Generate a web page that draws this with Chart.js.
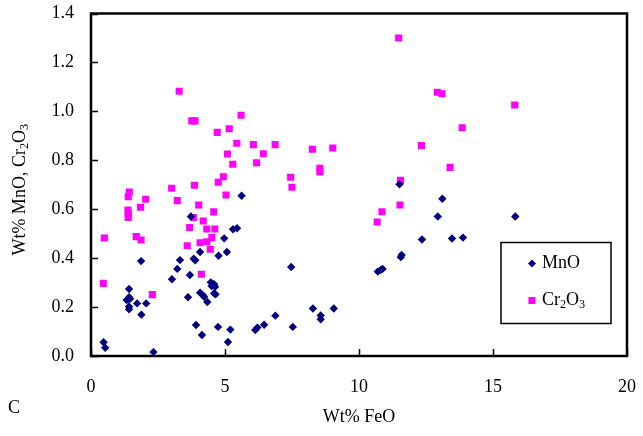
<!DOCTYPE html>
<html>
<head>
<meta charset="utf-8">
<script src="https://cdn.jsdelivr.net/npm/chart.js@4.4.1/dist/chart.umd.min.js"></script>
<style>
  html, body { margin: 0; padding: 0; background: #fff; }
  #wrap { width: 643px; height: 436px; }
</style>
</head>
<body>
<div id="wrap"><canvas id="chart" width="643" height="436"></canvas></div>
<script>
// MnO points (Wt% FeO vs Wt% MnO)
const mnoFeO = [5.62, 3.73, 5.30, 5.45, 4.97, 5.07, 4.76, 4.07, 3.83, 3.89, 3.32, 1.87, 3.22, 3.69, 3.02,
  4.47, 4.59, 4.50, 4.63, 4.59, 4.65, 4.07, 4.17, 4.22, 4.34, 3.62, 1.42, 1.42, 1.39, 1.46, 1.33,
  1.42, 1.42, 1.72, 2.06, 1.88, 3.92, 4.14, 4.74, 5.20, 5.11, 6.13, 6.21, 0.47, 0.53, 2.33,
  11.51, 13.11, 12.94, 12.35, 11.56, 11.59, 10.70, 10.81, 10.88, 7.47, 7.53, 8.28, 8.57, 8.57,
  9.06, 6.88, 6.46, 13.47, 13.88, 15.83];
const mnoVal = [0.655, 0.570, 0.518, 0.522, 0.481, 0.425, 0.410, 0.425, 0.398, 0.391, 0.392, 0.388, 0.356, 0.331, 0.314,
  0.301, 0.294, 0.286, 0.283, 0.256, 0.252, 0.259, 0.249, 0.242, 0.221, 0.240, 0.274, 0.240, 0.232, 0.234, 0.229,
  0.202, 0.191, 0.215, 0.215, 0.169, 0.127, 0.086, 0.119, 0.108, 0.057, 0.106, 0.116, 0.056, 0.034, 0.016,
  0.702, 0.643, 0.570, 0.476, 0.404, 0.413, 0.345, 0.352, 0.356, 0.364, 0.119, 0.194, 0.166, 0.150,
  0.194, 0.165, 0.128, 0.480, 0.484, 0.570];

// Cr2O3 points (Wt% FeO vs Wt% Cr2O3)
const crFeO = [3.29, 3.76, 3.88, 4.71, 5.16, 5.60, 5.44, 6.06, 5.09, 5.29, 6.18, 4.94, 4.75, 3.86, 3.01,
  1.43, 1.39, 5.04, 3.22, 2.04, 1.85, 1.38, 1.39, 1.39, 4.02, 3.82, 4.19, 3.68, 4.32, 4.62, 4.58,
  0.50, 1.69, 1.87, 4.51, 4.32, 4.07, 4.45, 3.59, 4.12, 0.46, 2.29, 7.45, 7.50, 10.86, 10.68,
  11.53, 11.55, 11.48, 12.92, 13.10, 6.43, 6.87, 8.26, 9.02, 8.54, 8.54, 12.33, 13.40, 15.81, 13.85];
const crVal = [1.082, 0.961, 0.961, 0.914, 0.929, 0.984, 0.870, 0.864, 0.826, 0.784, 0.790, 0.733, 0.710, 0.698, 0.686,
  0.670, 0.651, 0.658, 0.635, 0.641, 0.608, 0.597, 0.583, 0.566, 0.617, 0.566, 0.552, 0.525, 0.519, 0.519, 0.589,
  0.482, 0.488, 0.474, 0.484, 0.467, 0.463, 0.436, 0.451, 0.334, 0.297, 0.251, 0.731, 0.690, 0.590, 0.548,
  0.617, 0.718, 1.300, 1.078, 1.072, 0.827, 0.864, 0.845, 0.850, 0.767, 0.752, 0.860, 0.771, 1.026, 0.933];

const xTicks = [0, 5, 10, 15, 20];
const yTicks = [0, 0.2, 0.4, 0.6, 0.8, 1.0, 1.2, 1.4];

const FONT = '"Liberation Serif", "Times New Roman", serif';
const NAVY = '#000080';
const MAGENTA = '#FF00FF';

const toPoints = (xs, ys) => xs.map((x, i) => ({ x: x, y: ys[i] }));

// draws "Cr" + sub2 + "O" + sub3 style text, returns width
function richText(ctx, parts, x, y, size, measureOnly) {
  let w = 0;
  parts.forEach(p => {
    const s = p.sub ? size * 0.68 : size;
    ctx.font = s + 'px ' + FONT;
    if (!measureOnly) ctx.fillText(p.t, x + w, y + (p.sub ? size * 0.25 : 0));
    w += ctx.measureText(p.t).width;
  });
  return w;
}

const framePlugin = {
  id: 'frame',
  afterDraw(chart) {
    const ctx = chart.ctx;
    const a = chart.chartArea;
    const xs = chart.scales.x, ys = chart.scales.y;
    ctx.save();
    ctx.strokeStyle = '#000';
    ctx.lineWidth = 1.5;
    // inner tick marks
    ctx.beginPath();
    yTicks.forEach(v => {
      const py = Math.round(ys.getPixelForValue(v)) + 0.5;
      ctx.moveTo(a.left, py); ctx.lineTo(a.left + 7, py);
    });
    xTicks.forEach(v => {
      const px = Math.round(xs.getPixelForValue(v)) + 0.5;
      ctx.moveTo(px, a.bottom); ctx.lineTo(px, a.bottom - 7);
    });
    ctx.stroke();
    // box
    ctx.lineWidth = 2.5;
    ctx.strokeRect(a.left, a.top, a.right - a.left, a.bottom - a.top);

    // legend box
    const lx = a.right - 126, ly = a.top + 229, lw = 110, lh = 81;
    ctx.lineWidth = 1.5;
    ctx.strokeRect(lx, ly, lw, lh);
    ctx.fillStyle = NAVY;
    const dx = lx + 31, dy = ly + 21;
    ctx.beginPath();
    ctx.moveTo(dx, dy - 4); ctx.lineTo(dx + 4, dy); ctx.lineTo(dx, dy + 4); ctx.lineTo(dx - 4, dy);
    ctx.closePath(); ctx.fill();
    ctx.fillStyle = MAGENTA;
    ctx.fillRect(dx - 3.5, ly + 58 - 3.5, 7, 7);
    ctx.fillStyle = '#000';
    ctx.textBaseline = 'middle';
    ctx.textAlign = 'left';
    ctx.font = '18px ' + FONT;
    ctx.fillText('MnO', dx + 10, dy);
    richText(ctx, [{ t: 'Cr' }, { t: '2', sub: true }, { t: 'O' }, { t: '3', sub: true }], dx + 10, ly + 58, 18);

    // y axis title
    const parts = [{ t: 'Wt% MnO, Cr' }, { t: '2', sub: true }, { t: 'O' }, { t: '3', sub: true }];
    const tw = richText(ctx, parts, 0, 0, 18, true);
    ctx.translate(20, (a.top + a.bottom) / 2 + 5);
    ctx.rotate(-Math.PI / 2);
    richText(ctx, parts, -tw / 2, 0, 18);
    ctx.restore();

    // panel letter
    ctx.save();
    ctx.fillStyle = '#000';
    ctx.font = '18px ' + FONT;
    ctx.textBaseline = 'middle';
    ctx.fillText('C', 8, 408);
    ctx.restore();
  }
};

new Chart(document.getElementById('chart'), {
  type: 'scatter',
  data: {
    datasets: [
      {
        label: 'MnO',
        data: toPoints(mnoFeO, mnoVal),
        pointStyle: 'rectRot',
        pointRadius: 4.2,
        backgroundColor: NAVY,
        borderColor: NAVY,
        borderWidth: 0
      },
      {
        label: 'Cr2O3',
        data: toPoints(crFeO, crVal),
        pointStyle: 'rect',
        pointRadius: 5,
        backgroundColor: MAGENTA,
        borderColor: MAGENTA,
        borderWidth: 0
      }
    ]
  },
  options: {
    responsive: false,
    animation: false,
    layout: { padding: { left: 0, top: 13.5, right: 16, bottom: 0 } },
    plugins: {
      legend: { display: false },
      tooltip: { enabled: false }
    },
    scales: {
      x: {
        type: 'linear',
        min: 0,
        max: 20,
        afterBuildTicks: s => { s.ticks = xTicks.map(v => ({ value: v })); },
        afterFit: s => { s.height = 80; s.paddingLeft = 0; s.paddingRight = 0; },
        grid: { display: false, drawTicks: false },
        border: { display: false },
        ticks: { color: '#000', padding: 20, font: { family: FONT, size: 18 } },
        title: {
          display: true,
          text: 'Wt% FeO',
          color: '#000',
          font: { family: FONT, size: 18 },
          padding: { top: 0, bottom: 8 }
        }
      },
      y: {
        type: 'linear',
        min: 0,
        max: 1.4,
        afterBuildTicks: s => { s.ticks = yTicks.map(v => ({ value: v })); },
        afterFit: s => { s.width = 91; s.paddingTop = 0; s.paddingBottom = 0; },
        grid: { display: false, drawTicks: false },
        border: { display: false },
        ticks: {
          color: '#000',
          padding: 17,
          font: { family: FONT, size: 18 },
          callback: v => Number(v).toFixed(1)
        }
      }
    }
  },
  plugins: [framePlugin]
});
</script>
</body>
</html>
